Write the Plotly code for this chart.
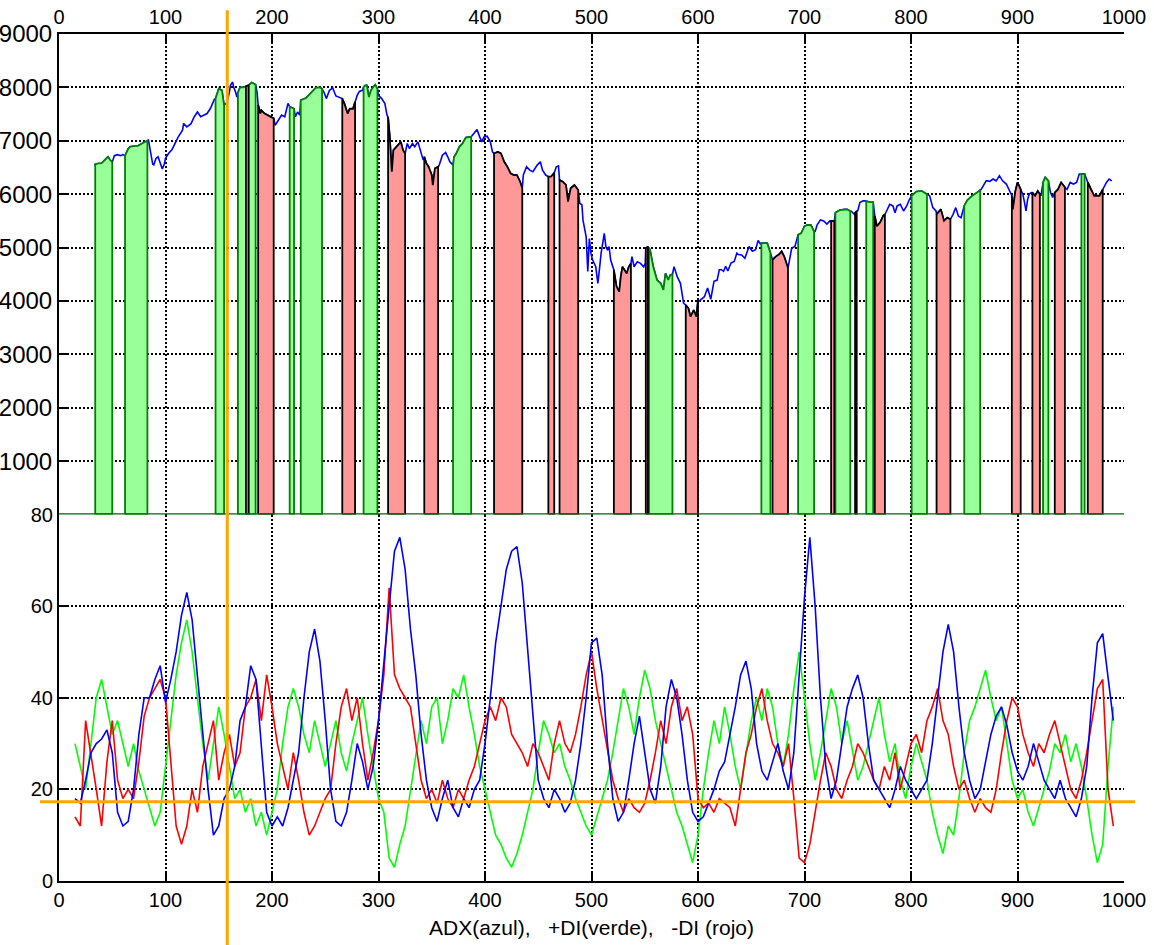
import plotly.graph_objects as go

# ---------------- price (top panel) ----------------
price_x = [33, 34, 37, 40, 43, 46, 48, 50, 52, 55, 58, 60, 62, 65, 67, 70, 74, 78, 81, 83, 84, 86, 88, 89, 91, 93, 95, 97, 99,
           100, 103, 106, 109, 112, 116, 117, 120, 124, 127, 130, 133, 136, 139, 142, 144, 146, 147, 150, 153, 155, 157, 158,
           160, 161, 163, 164, 166, 167, 168, 170, 173, 175.5, 178, 181, 184.6, 186, 187, 189, 190, 193, 196, 199, 201.6,
           203, 206, 209, 212, 215, 216.6, 220.7, 222, 224, 226, 227, 232, 237, 241, 245, 247, 249, 251, 254, 257, 260, 263,
           266, 268, 271, 273, 276, 278, 280, 282, 285, 286, 287.5, 289, 291, 293, 295, 297, 299, 300, 303, 306, 308, 309,
           310.5, 312.5, 314, 317, 319, 321, 323, 325, 327, 329, 332, 334, 337, 339, 342, 343, 345, 347, 350, 351, 353, 356,
           357, 360, 363, 365, 367, 370, 371, 373, 376, 379, 382, 387, 389.5, 392.5, 395, 397, 399, 402, 405, 407, 408.5,
           412, 415, 418, 421, 424, 427, 430, 433, 435, 436, 439, 442, 445, 449, 452, 454, 457, 459.5, 462, 465, 467, 469,
           470, 473, 476, 478, 480.5, 484, 487.5, 489, 491, 492, 495, 496.5, 498, 499.5, 501, 504, 506, 507.5, 509, 512,
           513.5, 515, 516.5, 518, 520.5, 521, 523.5, 526, 527.5, 529, 531, 533, 535, 537, 538, 540, 543, 546, 549, 550.5,
           551, 553, 554, 555, 558, 561.5, 565, 567.5, 569.5, 572, 574, 576, 577.5, 580.5, 583.5, 586.5, 588.5, 591, 593,
           596, 598.5, 600, 601, 604, 606, 609, 612, 615, 618, 620, 622, 624, 626, 628, 631, 634, 636.5, 638, 641, 644, 648,
           651, 654, 656.5, 658.5, 659.5, 662, 665, 668, 670, 673, 676.5, 678.5, 681, 684.5, 686, 688, 691, 693, 694, 697,
           700, 703, 706, 709, 710, 712, 715, 718, 721, 724, 725, 728, 729, 733, 737, 740, 743, 744, 747, 747.5, 749, 750,
           752, 755, 757, 758, 761, 764.5, 766, 768, 771, 774, 775.5, 777, 780, 783, 785, 787, 790, 793, 796, 798.5, 800.6,
           805, 810, 815, 817.5, 820.5, 823.5, 824, 828, 831, 834, 837, 839.5, 842, 844.5, 847, 849, 850, 853, 857.5, 862,
           865, 866, 870.7, 874, 877, 880, 883, 886, 889.5, 893, 894.7, 895.6, 898, 900, 903, 905, 906.5, 908, 909.5, 911,
           913, 914, 916.5, 919, 921, 922, 924, 926, 929, 931, 933, 935, 938, 941, 944.5, 946.5, 949.5, 952.5, 955.5, 958,
           960, 963, 966, 969, 972, 977, 980, 981, 983.5, 986, 988.5]
price_y = [6550, 6560, 6575, 6580, 6640, 6700, 6640, 6600, 6720, 6740, 6720, 6740, 6720, 6850, 6890, 6900, 6905, 6950, 6990, 7000, 7010, 6800, 6560, 6550, 6670, 6700, 6580, 6470, 6570,
           6670, 6765, 6830, 6950, 7075, 7200, 7325, 7260, 7320, 7450, 7540, 7450, 7480, 7510, 7600, 7700, 7780, 7790, 7975, 7945, 7665, 7700, 7730,
           7910, 8037, 8100, 8006, 7900, 7820, 7900, 8000, 8000, 8020, 8040, 8090, 8050, 7900, 7670, 7510, 7570, 7510, 7480, 7450, 7420,
           7290, 7385, 7480, 7450, 7700, 7640, 7600, 7450, 7540, 7480, 7760, 7800, 7910, 7990, 8000, 7975, 7900, 7790, 7945, 7990, 7840, 7810,
           7790, 7695, 7510, 7600, 7600, 7725, 7850, 7925, 7945, 8006, 8037, 8040, 7820, 7945, 8006, 8050, 7970, 7850, 7790, 7695, 7480, 7446,
           7104, 6420, 6825, 6887, 6920, 6980, 6825, 6760, 6950, 6855, 6950, 6887, 6980, 6825, 6638, 6700, 6575, 6513, 6358, 6171, 6482, 6513,
           6545, 6731, 6780, 6700, 6607, 6545, 6700, 6762, 6887, 6950, 7060, 7075, 7135, 7210, 7073, 6980, 7073, 7085, 6980, 6793, 6762,
           6793, 6762, 6607, 6513, 6389, 6358, 6358, 6233, 6110, 6358, 6513, 6451, 6420, 6545, 6607, 6451, 6358, 6327, 6327, 6400, 6513, 6530,
           6265, 6233, 6172, 5860, 6110, 6172, 6078, 5830, 5800, 5515, 5200, 4550, 5170, 4890, 4770, 4640, 4330, 4600, 4890, 5265,
           5016, 4950, 5016, 4766, 4640, 4580, 4270, 4173, 4454, 4640, 4580, 4516, 4640, 4703, 4828, 4640, 4734, 4703, 4640, 4700,
           4990, 5016, 4990, 4953, 4640, 4392, 4330, 4205, 4516, 4392, 4485, 4500, 4640, 4454, 4330, 3956, 3925, 3862, 3705,
           3830, 3705, 4017, 3995, 4050, 4079, 4243, 4030, 4367, 4390, 4585, 4585, 4555, 4650, 4560, 4710, 4740, 4896, 4870, 4860, 4800, 5020,
           4930, 4960, 5133, 5070, 5083, 5083, 5083, 4900, 4772, 4830, 4880, 4927, 4830, 4616, 4800, 4990, 5020, 5145, 5238, 5270,
           5400, 5425, 5420, 5300, 5300, 5430, 5518, 5500, 5440, 5500, 5496, 5496, 5653, 5700, 5716, 5716, 5680, 5680, 5620, 5650, 5685, 5690,
           5842, 5874, 5874, 5870, 5850, 5850, 5590, 5400, 5470, 5600, 5620, 5680, 5810, 5780, 5650, 5780, 5810, 5685, 5780, 5900, 5970,
           6050, 6060, 6000, 5970, 5748, 5685, 5622, 5716, 5500, 5560, 5530, 5622, 5748, 5590, 5559, 5748, 5780, 5890, 5970, 6030,
           6080, 6095, 6252, 6240, 6283, 6250, 6346, 6250, 6190, 6030, 5970, 5716, 6060, 6220, 6090, 6000, 5850, 5685, 5900, 6000,
           6030, 6030, 5970, 6060, 6000, 5970, 6220, 6315, 6250, 6030, 5940, 6030, 6090, 6220, 6130, 6090, 6220, 6190, 6220, 6378,
           6378, 6380, 6220, 6090, 5970, 5970, 6090, 6120, 6220, 6283, 6250]

# trend regions: (start, end) on the price x grid
up_regions = [(34, 50), (62, 83), (147, 155), (168, 175.5), (178, 184.6), (216.6, 220.7), (227, 247), (286, 299),
              (370, 387), (554, 576), (659.5, 668), (694, 709), (729, 743), (758, 764.5), (800.6, 815), (850, 865),
              (924, 929), (960, 963)]
down_regions = [(175.5, 178), (187, 201.6), (266, 278), (309, 325), (343, 356), (408.5, 435), (459.5, 465),
                (470, 487.5), (521, 537), (551, 553), (588.5, 600), (670, 684.5), (725, 728), (747.5, 749),
                (766, 775.5), (824, 837), (894.7, 903), (914, 921), (935, 944.5), (966, 980)]

# ---------------- indicators (bottom panel), sampled every 5 bars from 15 to 990 ----------------
ind_x = list(range(15, 991, 5))
adx = [18, 17, 22, 28, 30, 31, 33, 28, 15, 12,
       13, 20, 32, 40, 40, 44, 47, 39, 44, 50,
       58, 63, 57, 45, 32, 20, 10, 12, 18, 20,
       25, 35, 38, 47, 44, 30, 15, 12, 14, 12,
       16, 22, 28, 40, 50, 55, 48, 35, 20, 13,
       12, 15, 22, 30, 26, 20, 25, 35, 48, 60,
       72, 75, 68, 55, 45, 32, 22, 16, 13, 18,
       22, 16, 14, 18, 16, 20, 22, 30, 40, 52,
       60, 68, 72, 73, 65, 50, 35, 22, 18, 16,
       20, 18, 15, 17, 22, 30, 40, 52, 53, 45,
       30, 18, 13, 15, 22, 30, 36, 28, 20, 17,
       25, 38, 44, 40, 32, 22, 15, 13, 14, 17,
       20, 24, 26, 32, 38, 45, 48, 42, 30, 24,
       22, 26, 30, 24, 20, 28, 45, 62, 75, 60,
       40, 25, 18, 22, 30, 38, 42, 45, 40, 30,
       22, 20, 18, 16, 20, 25, 22, 20, 18, 20,
       22, 30, 40, 50, 56, 50, 38, 28, 22, 18,
       20, 26, 32, 36, 38, 34, 28, 24, 22, 25,
       30, 26, 22, 20, 18, 22, 18, 16, 14, 18,
       25, 40, 52, 54, 45, 35]
di_plus = [30, 25, 20, 30, 40, 44, 38, 32, 35, 30,
           25, 30, 24, 20, 16, 12, 15, 25, 35, 45,
           52, 57, 50, 40, 30, 22, 30, 38, 32, 25,
           18, 20, 15, 18, 12, 15, 10, 15, 20, 30,
           38, 42, 38, 32, 28, 35, 30, 25, 30, 35,
           28, 24, 30, 35, 40, 32, 25, 18, 15, 5,
           3, 8, 12, 20, 28, 35, 30, 38, 40, 30,
           35, 42, 40, 45, 38, 32, 25, 20, 15, 10,
           8, 5, 3, 6, 10, 15, 20, 28, 35, 32,
           28, 30, 25, 22, 18, 15, 12, 10, 14, 18,
           22, 28, 35, 42, 38, 32, 40, 46, 42, 35,
           30, 25, 20, 15, 12, 8, 4, 10, 20, 28,
           35, 30, 38, 32, 25, 20, 28, 35, 40, 35,
           42, 38, 30, 25, 32, 42, 50, 40, 30, 22,
           28, 35, 42, 38, 30, 35, 28, 22, 25, 30,
           35, 40, 32, 26, 30, 22, 18, 25, 30, 26,
           22, 15, 10, 6, 12, 10, 18, 28, 35, 38,
           42, 46, 40, 35, 38, 30, 22, 18, 20, 15,
           12, 16, 20, 24, 30, 28, 32, 26, 30, 25,
           18, 10, 4, 8, 25, 38]
di_minus = [14, 12, 35, 28, 20, 12, 26, 35, 22, 18,
            20, 18, 26, 36, 40, 42, 44, 40, 25, 12,
            8, 12, 20, 15, 25, 30, 35, 22, 28, 32,
            25, 28, 38, 40, 44, 35, 45, 38, 30, 25,
            20, 28, 22, 15, 10, 12, 15, 18, 20, 30,
            38, 42, 35, 40, 30, 22, 28, 35, 45, 64,
            45, 42, 40, 38, 30, 22, 18, 20, 17, 22,
            18, 16, 20, 18, 22, 25, 30, 35, 38, 35,
            40, 38, 32, 30, 28, 25, 30, 28, 25, 22,
            30, 35, 30, 28, 32, 38, 45, 50, 42, 35,
            28, 22, 18, 15, 18, 16, 15, 17, 22, 28,
            35, 30, 38, 42, 35, 38, 32, 18, 16, 17,
            15, 18, 17, 16, 12, 20, 28, 32, 38, 42,
            35, 30, 28, 25, 30, 18, 5, 4, 8, 15,
            22, 28, 25, 20, 18, 22, 25, 30, 28, 25,
            22, 20, 25, 22, 28, 20, 25, 30, 32, 28,
            35, 38, 42, 35, 32, 25, 20, 22, 18, 15,
            18, 16, 15, 20, 28, 35, 40, 38, 32, 28,
            25, 30, 28, 32, 35, 30, 25, 20, 18, 22,
            28, 35, 42, 44, 20, 12]

x_ticks = list(range(0, 1001, 100))
price_ticks = list(range(1000, 9001, 1000))
ind_ticks = [0, 20, 40, 60, 80]
cursor_x = 158
cursor_level = 17.3
x_title = "ADX(azul),\u00a0\u00a0\u00a0+DI(verde),\u00a0\u00a0\u00a0-DI (rojo)"

FONT = "Liberation Sans, Arial, sans-serif"
BLUE = "#0000FF"
UP_FILL = "#99FF99"
UP_LINE = "#008000"
DN_FILL = "#FF9999"
DN_LINE = "#000000"

fig = go.Figure()

# neutral price line
fig.add_trace(go.Scatter(x=price_x, y=price_y, mode="lines", line=dict(color=BLUE, width=1.6),
                         xaxis="x2", yaxis="y2", hoverinfo="skip"))


def region_trace(s, e, fill, line):
    xs = [x for x in price_x if s <= x <= e]
    ys = [price_y[price_x.index(x)] for x in xs]
    px = [xs[0]] + xs + [xs[-1], xs[0]]
    py = [0] + ys + [0, 0]
    return go.Scatter(x=px, y=py, mode="lines", fill="toself", fillcolor=fill,
                      line=dict(color=line, width=1.8), xaxis="x2", yaxis="y2", hoverinfo="skip")


for s, e in up_regions:
    fig.add_trace(region_trace(s, e, UP_FILL, UP_LINE))
for s, e in down_regions:
    fig.add_trace(region_trace(s, e, DN_FILL, DN_LINE))

# indicators
fig.add_trace(go.Scatter(x=ind_x, y=di_plus, mode="lines", line=dict(color="#00FF00", width=1.6), hoverinfo="skip"))
fig.add_trace(go.Scatter(x=ind_x, y=di_minus, mode="lines", line=dict(color="#FF0000", width=1.6), hoverinfo="skip"))
fig.add_trace(go.Scatter(x=ind_x, y=adx, mode="lines", line=dict(color=BLUE, width=1.6), hoverinfo="skip"))

grid = dict(showgrid=True, gridcolor="black", gridwidth=2, griddash="2px,2px")
axis_common = dict(showline=True, linecolor="black", linewidth=2, ticks="inside", ticklen=10, tickwidth=2,
                   tickcolor="black", zeroline=False, automargin=False,
                   tickfont=dict(family=FONT, size=20, color="black"), **grid)

top_frac = 0.4327
fig.update_layout(
    width=1154, height=945, showlegend=False,
    paper_bgcolor="white", plot_bgcolor="white",
    margin=dict(l=59, r=30, t=34, b=64),
    xaxis=dict(domain=[0, 1], range=[0, 1000], anchor="y", tickvals=x_ticks,
               title=dict(text=x_title, font=dict(family=FONT, size=21, color="black"), standoff=10), **axis_common),
    yaxis=dict(domain=[0, top_frac], range=[0, 80], anchor="x", tickvals=ind_ticks, **axis_common),
    xaxis2=dict(domain=[0, 1], range=[0, 1000], anchor="y2", side="top", tickvals=x_ticks, **axis_common),
    yaxis2=dict(domain=[top_frac, 1], range=[0, 9000], anchor="x2", tickvals=price_ticks,
                **{k: v for k, v in axis_common.items() if k != "tickfont"},
                tickfont=dict(family=FONT, size=24, color="black")),
    shapes=[
        # zero baseline of the price panel
        dict(type="line", xref="paper", yref="y2", x0=0, x1=1, y0=0, y1=0, line=dict(color="#006400", width=2.5)),
        # cursor lines
        dict(type="line", xref="x", yref="paper", x0=cursor_x, x1=cursor_x, y0=-0.0756, y1=1.028,
             line=dict(color="#FFA500", width=3)),
        dict(type="line", xref="paper", yref="y", x0=-0.0178, x1=1.0103, y0=cursor_level, y1=cursor_level,
             line=dict(color="#FFA500", width=3)),
    ],
)

fig.write_html("out.html")
